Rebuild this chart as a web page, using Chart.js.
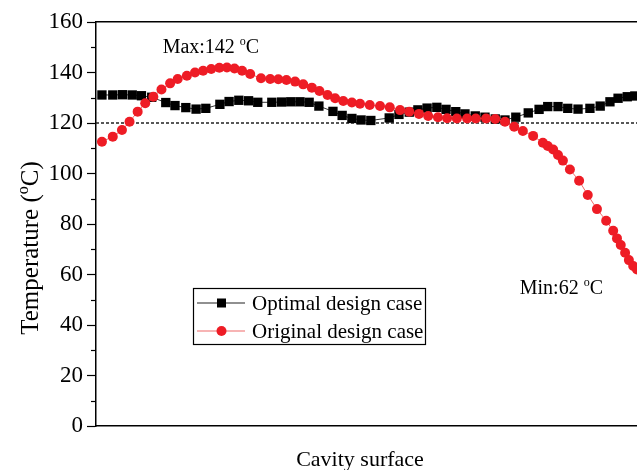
<!DOCTYPE html>
<html>
<head>
<meta charset="utf-8">
<script src="https://cdn.jsdelivr.net/npm/chart.js@4.4.1/dist/chart.umd.min.js"></script>
<style>
  html, body { margin: 0; padding: 0; background: #fff; }
  #wrap { width: 637px; height: 470px; }
</style>
</head>
<body>
<div id="wrap"><canvas id="temp-chart"></canvas></div>
<script>
/* Cavity surface temperature: optimal vs original design */

// position along the cavity surface (0 - 100)
const optimalPos = [1.1, 3.1, 4.9, 6.7, 8.4, 10.3, 12.9, 14.6, 16.6, 18.5, 20.3, 22.9, 24.6, 26.4, 28.2, 29.9,
    32.5, 34.3, 36.0, 37.7, 39.4, 41.2, 43.8, 45.5, 47.3, 49.0, 50.8, 54.2, 56.0, 57.9, 59.5, 61.2, 63.0,
    64.7, 66.5, 68.2, 70.1, 71.9, 73.8, 75.6, 77.6, 79.9, 81.9, 83.5, 85.4, 87.2, 89.1, 91.3, 93.2, 95.0,
    96.5, 98.2, 99.6];
const optimalTemp = [131.1, 131.1, 131.2, 131.1, 130.8, 130.2, 128.1, 126.9, 126.1, 125.5, 125.8, 127.4, 128.5,
    129.0, 128.8, 128.2, 128.2, 128.3, 128.4, 128.4, 128.2, 126.7, 124.6, 123.0, 121.8, 121.2, 121.0, 122.0,
    123.4, 124.3, 125.2, 125.9, 126.2, 125.4, 124.5, 123.6, 122.8, 122.3, 121.6, 121.2, 122.3, 124.0, 125.4,
    126.5, 126.5, 125.8, 125.5, 125.8, 126.7, 128.4, 129.8, 130.4, 130.7];

const originalPos = [1.1, 3.1, 4.8, 6.2, 7.7, 9.1, 10.6, 12.1, 13.7, 15.1, 16.8, 18.3, 19.8, 21.3, 22.8, 24.2,
    25.6, 27.0, 28.5, 30.5, 32.2, 33.7, 35.2, 36.8, 38.3, 39.9, 41.3, 42.8, 44.2, 45.7, 47.3, 48.8, 50.6,
    52.5, 54.3, 56.2, 57.9, 59.7, 61.4, 63.2, 64.9, 66.7, 68.6, 70.2, 72.1, 73.8, 75.6, 77.3, 78.9, 80.8,
    82.6, 83.5, 84.5, 85.4, 86.3, 87.6, 89.3, 90.9, 92.6, 94.3, 95.6, 96.3, 97.0, 97.8, 98.5, 99.3, 100.0];
const originalTemp = [112.6, 114.6, 117.2, 120.5, 124.5, 127.8, 130.4, 133.3, 135.7, 137.4, 138.7, 140.0, 140.7,
    141.4, 141.9, 142.0, 141.6, 140.7, 139.4, 137.7, 137.4, 137.3, 137.0, 136.4, 135.3, 134.0, 132.7, 131.1,
    129.8, 128.7, 128.1, 127.6, 127.1, 126.7, 126.2, 125.1, 124.5, 123.6, 122.8, 122.3, 121.9, 121.8, 121.8,
    121.8, 121.8, 121.6, 120.5, 118.5, 116.8, 114.9, 112.2, 110.9, 109.5, 107.3, 105.1, 101.6, 97.1, 91.5,
    85.9, 81.3, 77.3, 74.3, 71.7, 68.6, 65.7, 63.4, 62.0];

const seriesNames = ['Optimal design case', 'Original design case'];
const yTickValues = [0, 20, 40, 60, 80, 100, 120, 140, 160];
const yMinorValues = [10, 30, 50, 70, 90, 110, 130, 150];
const refTemp = 120;
const posRange = [0, 100];

const SERIF = '"Liberation Serif", "Times New Roman", serif';
const RED = '#ee1c25';

const toPoints = (xs, ys) => xs.map((x, i) => ({ x, y: ys[i] }));

// text with a superscript "o" for the degree sign
function drawDegText(ctx, parts, x, y, size, align) {
    const sup = Math.round(size * 0.62);
    ctx.font = `${size}px ${SERIF}`;
    const w0 = ctx.measureText(parts[0]).width;
    const w2 = ctx.measureText(parts[1]).width;
    ctx.font = `${sup}px ${SERIF}`;
    const w1 = ctx.measureText('o').width;
    const total = w0 + w1 + w2;
    let sx = align === 'center' ? x - total / 2 : (align === 'right' ? x - total : x);
    ctx.textAlign = 'left';
    ctx.textBaseline = 'alphabetic';
    ctx.font = `${size}px ${SERIF}`;
    ctx.fillText(parts[0], sx, y);
    ctx.font = `${sup}px ${SERIF}`;
    ctx.fillText('o', sx + w0, y - size * 0.42);
    ctx.font = `${size}px ${SERIF}`;
    ctx.fillText(parts[1], sx + w0 + w1, y);
}

const decorPlugin = {
    id: 'decor',
    afterDraw(chart) {
        const { ctx, chartArea: a, scales: { x, y } } = chart;
        ctx.save();
        ctx.fillStyle = '#000';
        ctx.strokeStyle = '#000';

        // minor ticks on y
        ctx.lineWidth = 1.2;
        yMinorValues.forEach(v => {
            const py = Math.round(y.getPixelForValue(v)) + 0.5;
            ctx.beginPath();
            ctx.moveTo(a.left - 5, py);
            ctx.lineTo(a.left, py);
            ctx.stroke();
        });

        // axis titles
        ctx.save();
        ctx.translate(29, 248);
        ctx.rotate(-Math.PI / 2);
        drawDegText(ctx, ['Temperature (', 'C)'], 0, 9, 25, 'center');
        ctx.restore();
        ctx.font = `22px ${SERIF}`;
        ctx.textAlign = 'center';
        ctx.textBaseline = 'alphabetic';
        ctx.fillText('Cavity surface', 360, 466);

        // max / min notes
        const maxT = Math.max(...originalTemp);
        const minT = Math.min(...originalTemp);
        const maxX = originalPos[originalTemp.indexOf(maxT)];
        drawDegText(ctx, [`Max:${maxT} `, 'C'], x.getPixelForValue(maxX) - 16, y.getPixelForValue(maxT) - 14, 20, 'center');
        drawDegText(ctx, [`Min:${minT} `, 'C'], 603, y.getPixelForValue(minT) + 25, 20, 'right');

        // legend box
        const lx = 193, ly = 288, lw = 232, lh = 56;
        ctx.lineWidth = 1.2;
        ctx.strokeStyle = '#000';
        ctx.strokeRect(lx + 0.5, ly + 0.5, lw, lh);
        const rows = [ly + 15, ly + 43];
        rows.forEach((ry, i) => {
            ctx.strokeStyle = i === 0 ? '#222' : '#f06a6a';
            ctx.lineWidth = 1.2;
            ctx.beginPath();
            ctx.moveTo(lx + 4, ry);
            ctx.lineTo(lx + 52, ry);
            ctx.stroke();
            ctx.fillStyle = i === 0 ? '#000' : RED;
            if (i === 0) {
                ctx.fillRect(lx + 24, ry - 4.5, 9, 9);
            } else {
                ctx.beginPath();
                ctx.arc(lx + 28.5, ry, 5, 0, Math.PI * 2);
                ctx.fill();
            }
            ctx.fillStyle = '#000';
            ctx.font = `21px ${SERIF}`;
            ctx.textAlign = 'left';
            ctx.textBaseline = 'middle';
            ctx.fillText(seriesNames[i], lx + 59, ry + 1);
        });
        ctx.restore();
    },
};

new Chart(document.getElementById('temp-chart'), {
    type: 'line',
    data: {
        datasets: [
            {
                label: seriesNames[1],
                data: toPoints(originalPos, originalTemp),
                borderColor: '#f06a6a',
                borderWidth: 1,
                pointStyle: 'circle',
                pointRadius: 5,
                pointBackgroundColor: RED,
                pointBorderColor: RED,
                pointBorderWidth: 0,
                order: 1,
            },
            {
                label: seriesNames[0],
                data: toPoints(optimalPos, optimalTemp),
                borderColor: '#333',
                borderWidth: 1,
                pointStyle: 'rect',
                pointRadius: 6.6,
                pointBackgroundColor: '#000',
                pointBorderColor: '#000',
                pointBorderWidth: 0,
                order: 2,
            },
            {
                label: 'ref',
                data: posRange.map(p => ({ x: p, y: refTemp })),
                borderColor: '#222',
                borderWidth: 1.3,
                borderDash: [3, 2],
                pointRadius: 0,
                order: 3,
            },
        ],
    },
    options: {
        responsive: true,
        maintainAspectRatio: false,
        animation: false,
        events: [],
        layout: { autoPadding: false, padding: { left: 0, right: 0, top: 22, bottom: 0 } },
        plugins: { legend: { display: false }, tooltip: { enabled: false } },
        scales: {
            x: {
                type: 'linear',
                min: posRange[0],
                max: posRange[1],
                ticks: { display: false },
                grid: { display: false },
                border: { display: true, color: '#000', width: 1.5 },
                afterFit: s => { s.height = 44; },
            },
            xTop: {
                type: 'linear',
                position: 'top',
                min: posRange[0],
                max: posRange[1],
                ticks: { display: false },
                grid: { display: false },
                border: { display: true, color: '#000', width: 1.5 },
                afterFit: s => { s.height = 0; },
            },
            y: {
                min: 0,
                max: 160,
                afterBuildTicks: s => { s.ticks = yTickValues.map(v => ({ value: v })); },
                ticks: { color: '#000', padding: 4, font: { family: SERIF, size: 23 } },
                grid: { drawOnChartArea: false, tickLength: 9, tickColor: '#000', tickWidth: 1.2 },
                border: { display: true, color: '#000', width: 1.5 },
                afterFit: s => { s.width = 96; },
            },
        },
    },
    plugins: [decorPlugin],
});
</script>
</body>
</html>
